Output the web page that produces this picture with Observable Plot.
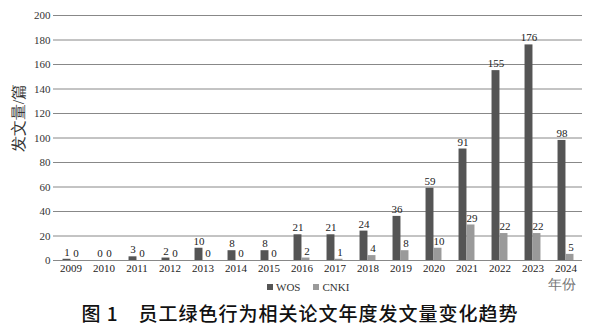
<!DOCTYPE html>
<html>
<head>
<meta charset="utf-8">
<script src="https://cdn.jsdelivr.net/npm/d3@7"></script>
<script src="https://cdn.jsdelivr.net/npm/@observablehq/plot@0.6"></script>
<style>
  body { margin: 0; background: #fff; }
  #wrap { position: relative; width: 600px; height: 333px; overflow: hidden; }
  #chart svg text { font-family: "Liberation Serif", "DejaVu Serif", serif; }
  #legend { position: absolute; top: 281px; left: 267px; font: 11px "Liberation Serif", serif; color: #333; display: flex; gap: 13px; }
  #legend span.sw { display: inline-block; width: 6px; height: 6px; margin-right: 3px; vertical-align: 1px; }
  #title { position: absolute; top: 299px; left: 0; width: 600px; text-align: center; font: 500 19px "Noto Sans CJK SC", sans-serif; letter-spacing: 1px; color: #111; }
</style>
</head>
<body>
<div id="wrap">
  <div id="chart"></div>
  <div id="legend"></div>
  <div id="title">图 1　员工绿色行为相关论文年度发文量变化趋势</div>
</div>
<script>
const years = ["2009","2010","2011","2012","2013","2014","2015","2016","2017","2018","2019","2020","2021","2022","2023","2024"];
const wos  = [1, 0, 3, 2, 10, 8, 8, 21, 21, 24, 36, 59, 91, 155, 176, 98];
const cnki = [0, 0, 0, 0, 0, 0, 0, 2, 1, 4, 8, 10, 29, 22, 22, 5];
const seriesNames = ["WOS", "CNKI"];
const seriesColors = ["#555555", "#9a9a9a"];
const yTicks = [0, 20, 40, 60, 80, 100, 120, 140, 160, 180, 200];

const wosRows = years.map((y, i) => ({year: y, series: "WOS", value: wos[i]}));
const cnkiRows = years.map((y, i) => ({year: y, series: "CNKI", value: cnki[i]}));

const W = 600, H = 297, mL = 53, mR = 18, mT = 15, mB = 37;
const bw = (W - mL - mR) / years.length;
const barW = 8;
const serif = "'Liberation Serif', 'DejaVu Serif', serif";
const cjk = "'Noto Sans CJK SC', sans-serif";

const chart = Plot.plot({
  width: W, height: H,
  marginLeft: mL, marginRight: mR, marginTop: mT, marginBottom: mB,
  style: {fontFamily: serif, fontSize: "11px", color: "#333", background: "#fff"},
  x: {type: "band", domain: years, padding: 0, label: null, tickSize: 0, tickPadding: 4},
  y: {domain: [0, 200], ticks: yTicks, label: null, tickSize: 0, tickPadding: 3},
  color: {domain: seriesNames, range: seriesColors},
  marks: [
    Plot.gridY(yTicks, {stroke: "#888", strokeOpacity: 1, strokeWidth: 1}),
    Plot.barY(wosRows, {x: "year", y: "value", fill: "series", insetLeft: bw/2 - barW, insetRight: bw/2}),
    Plot.barY(cnkiRows, {x: "year", y: "value", fill: "series", insetLeft: bw/2, insetRight: bw/2 - barW}),
    Plot.text(wosRows, {x: "year", y: "value", text: d => String(d.value), dx: -barW/2, dy: -7, fill: "#222", fontSize: 11, fontFamily: serif}),
    Plot.text(cnkiRows, {x: "year", y: "value", text: d => String(d.value), dx: barW/2 + 1, dy: -7, fill: "#222", fontSize: 11, fontFamily: serif}),
    Plot.axisX({tickSize: 0, tickPadding: 4, fill: "#222", fontFamily: serif}),
    Plot.axisY({ticks: yTicks, tickSize: 0, tickPadding: 3, fill: "#333", fontFamily: serif}),
    Plot.text(["年份"], {frameAnchor: "bottom-right", dx: -7, dy: 28, textAnchor: "end", fill: "#777", fontSize: 14, fontFamily: cjk, fontWeight: 300}),
    Plot.text(["发文量/篇"], {frameAnchor: "left", textAnchor: "middle", dx: -35, dy: -20, rotate: -90, fill: "#333", fontSize: 16, fontFamily: cjk})
  ]
});
document.getElementById("chart").appendChild(chart);

const legend = document.getElementById("legend");
seriesNames.forEach((n, i) => {
  const item = document.createElement("div");
  const sw = document.createElement("span");
  sw.className = "sw";
  sw.style.background = seriesColors[i];
  item.appendChild(sw);
  item.appendChild(document.createTextNode(n));
  legend.appendChild(item);
});
</script>
</body>
</html>
